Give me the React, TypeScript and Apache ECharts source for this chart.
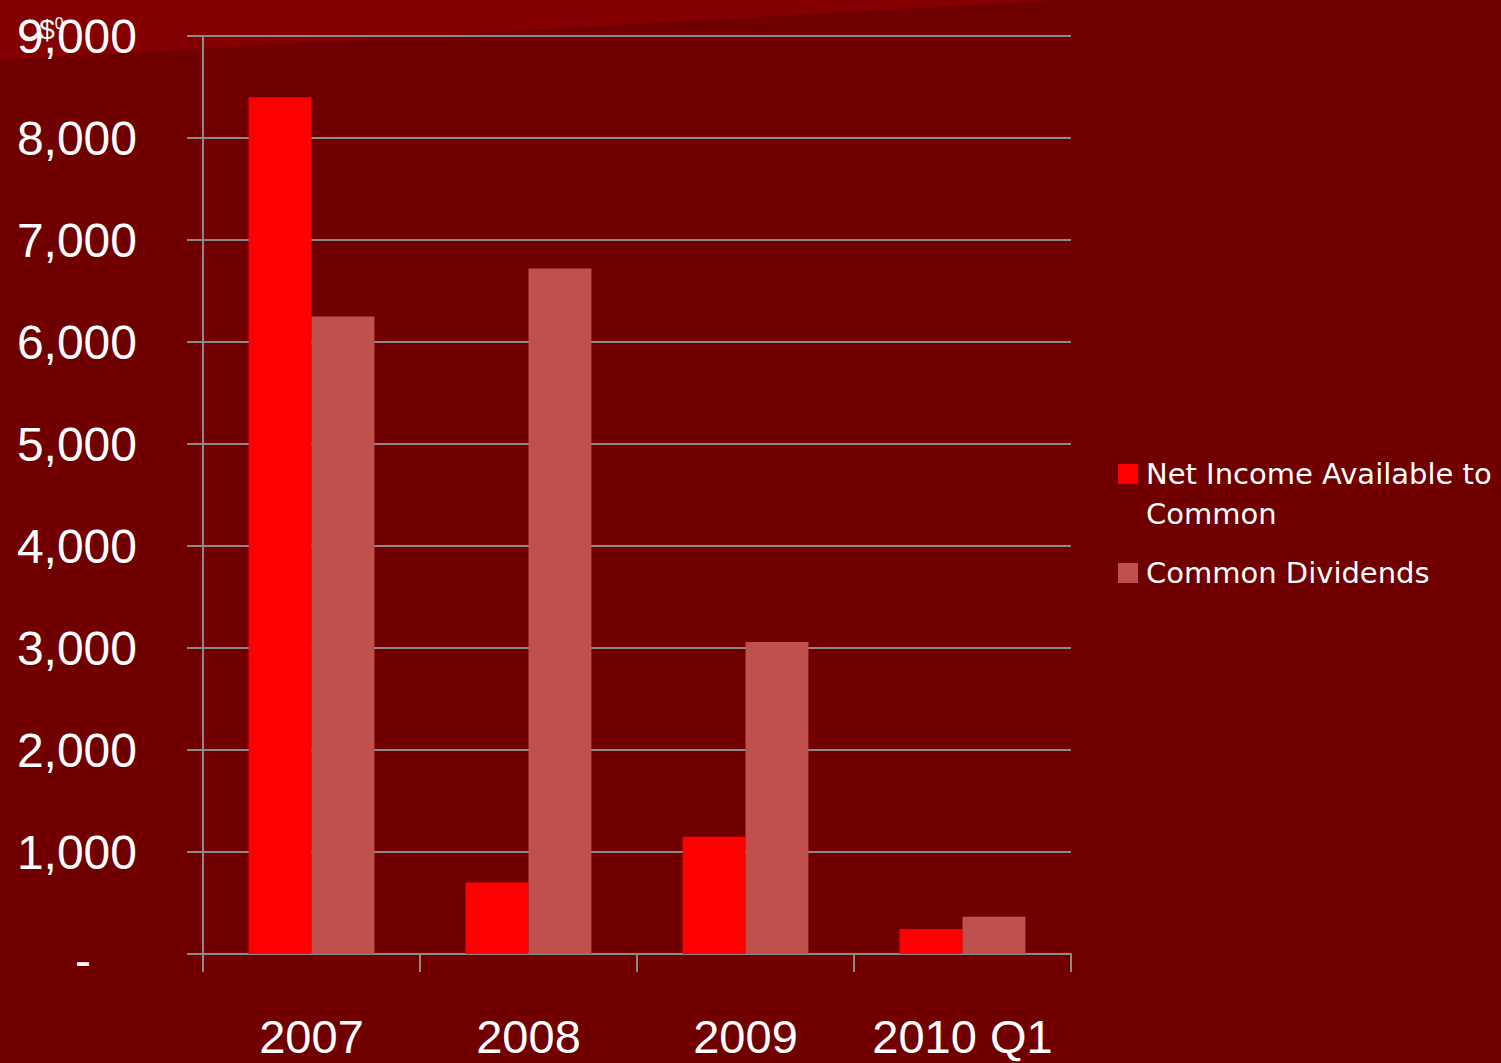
import React, { useEffect, useRef } from "react";
import * as echarts from "echarts";

const categories = ["2007", "2008", "2009", "2010 Q1"];
const netIncome = [8400, 700, 1150, 245];
const dividends = [6250, 6720, 3060, 365];
const seriesNames = ["Net Income Available to Common", "Common Dividends"];
const yTicks = { min: 0, max: 9000, interval: 1000 };

export default function App() {
  const ref = useRef<HTMLDivElement>(null);
  useEffect(() => {
    if (!ref.current) return;
    const chart = echarts.init(ref.current, null, { renderer: "svg" });
    const gray = "#8a8a8a";
    const legendText = {
      color: "#ffffff",
      fontSize: 29,
      lineHeight: 40,
      fontFamily: "DejaVu Sans",
      rich: {
        s: { fontSize: 29, lineHeight: 40, color: "#ffffff", fontFamily: "DejaVu Sans" },
        a: { fontSize: 29, lineHeight: 40, color: "#ffffff", fontFamily: "DejaVu Sans", padding: [0, 0, 0, 3] },
      },
    };
    chart.setOption({
      animation: false,
      backgroundColor: "#700000",
      graphic: [
        {
          type: "polygon",
          z: -1,
          silent: true,
          shape: { points: [[0, 0], [1060, 0], [0, 60]] },
          style: { fill: "#840000" },
        },
        {
          type: "text",
          x: 19,
          y: 15,
          z: 10,
          style: {
            text: "{a|C$}{b|0}",
            rich: {
              a: { fontSize: 28, fill: "#ffffff", fontFamily: "Liberation Sans", verticalAlign: "top" },
              b: { fontSize: 16, fill: "#ffffff", fontFamily: "Liberation Sans", verticalAlign: "top", padding: [0, 0, 10, 0] },
            },
          },
        },
      ],
      legend: [
        {
          data: [seriesNames[0]],
          formatter: () => "{s| }\n{a|Net Income Available to}\n{a|Common}",
          left: 1118,
          top: 414,
          padding: 0,
          orient: "vertical",
          icon: "rect",
          itemWidth: 20,
          itemHeight: 20,
          selectedMode: false,
          textStyle: legendText,
        },
        {
          data: [seriesNames[1]],
          formatter: (n: string) => "{a|" + n + "}",
          left: 1118,
          top: 553,
          padding: 0,
          orient: "vertical",
          icon: "rect",
          itemWidth: 20,
          itemHeight: 20,
          selectedMode: false,
          textStyle: legendText,
        },
      ],
      grid: { left: 203, right: 430, top: 36, bottom: 109, containLabel: false },
      xAxis: {
        type: "category",
        data: categories,
        axisLine: { show: true, lineStyle: { color: gray, width: 2 } },
        axisTick: { show: true, length: 18, interval: 0, lineStyle: { color: gray, width: 2 } },
        axisLabel: {
          color: "#ffffff",
          fontSize: 47,
          fontFamily: "Liberation Sans",
          margin: 59,
          interval: 0,
        },
        splitLine: { show: false },
      },
      yAxis: {
        type: "value",
        min: yTicks.min,
        max: yTicks.max,
        interval: yTicks.interval,
        axisLine: { show: true, lineStyle: { color: gray, width: 2 } },
        axisTick: { show: true, length: 16, lineStyle: { color: gray, width: 2 } },
        splitLine: { show: true, lineStyle: { color: gray, width: 2 } },
        axisLabel: {
          color: "#ffffff",
          fontSize: 48,
          fontFamily: "Liberation Sans",
          margin: 66,
          formatter: (v: number) =>
            v === 0 ? "{d|-}" : v.toLocaleString("en-US"),
          rich: {
            d: { color: "#ffffff", fontSize: 48, fontFamily: "Liberation Sans", padding: [12, 46, 0, 0] },
          },
        },
      },
      series: [
        {
          name: seriesNames[0],
          type: "bar",
          data: netIncome,
          itemStyle: { color: "#ff0000" },
          barGap: "0%",
          barCategoryGap: "42%",
        },
        {
          name: seriesNames[1],
          type: "bar",
          data: dividends,
          itemStyle: { color: "#c0504d" },
          barGap: "0%",
          barCategoryGap: "42%",
        },
      ],
    });
    return () => chart.dispose();
  }, []);
  return (
    <div
      ref={ref}
      style={{ position: "fixed", left: 0, top: 0, width: 1501, height: 1063 }}
    />
  );
}
